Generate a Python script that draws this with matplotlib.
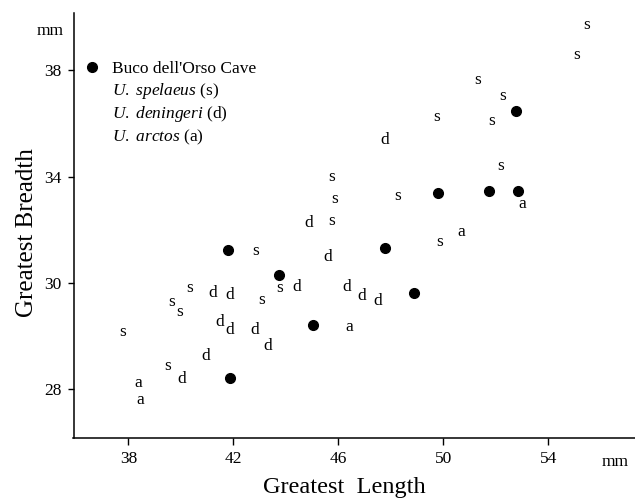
import matplotlib
matplotlib.use("Agg")
import matplotlib.pyplot as plt
from matplotlib.lines import Line2D

plt.rcParams['font.family'] = ['Liberation Serif', 'DejaVu Serif']
plt.rcParams['mathtext.fontset'] = 'custom'
plt.rcParams['mathtext.rm'] = 'Liberation Serif'
plt.rcParams['mathtext.it'] = 'Liberation Serif:italic'

# Buco dell'Orso Cave (filled dots)
buco_length = [52.77, 49.80, 51.74, 52.85, 41.80, 47.78, 43.74, 48.88, 45.04, 41.87]
buco_breadth = [36.47, 33.38, 33.46, 33.46, 31.24, 31.32, 30.30, 29.62, 28.42, 26.43]

# U. spelaeus (s)
spelaeus_length = [55.44, 55.06, 51.32, 52.24, 49.76, 51.82, 52.20, 48.27, 45.76, 45.84,
                   45.76, 49.84, 42.83, 43.78, 40.35, 43.09, 39.63, 39.97, 37.80, 39.51]
spelaeus_breadth = [39.70, 38.57, 37.63, 37.03, 36.24, 36.09, 34.40, 33.27, 33.98, 33.16,
                    32.33, 31.54, 31.20, 29.81, 29.81, 29.36, 29.29, 28.91, 28.16, 26.88]

# U. deningeri (d)
deningeri_length = [47.78, 44.88, 45.61, 44.43, 46.33, 46.90, 47.51, 41.23, 41.87, 41.49,
                    41.87, 42.83, 43.32, 40.96, 40.05]
deningeri_breadth = [35.38, 32.26, 30.98, 29.85, 29.85, 29.51, 29.32, 29.62, 29.55, 28.53,
                     28.23, 28.23, 27.63, 27.26, 26.39]

# U. arctos (a)
arctos_length = [53.00, 50.67, 46.41, 38.37, 38.45]
arctos_breadth = [32.97, 31.92, 28.35, 26.24, 25.60]

xtick_values = [38, 42, 46, 50, 54]
xtick_labels = ["38", "42", "46", "50", "54"]
ytick_values = [26, 30, 34, 38]
ytick_labels = ["28", "30", "34", "38"]

legend_labels = ["Buco dell'Orso Cave",
                 r"$\mathit{U.\ spelaeus}$ (s)",
                 r"$\mathit{U.\ deningeri}$ (d)",
                 r"$\mathit{U.\ arctos}$ (a)"]

W, H = 635, 499
fig = plt.figure(figsize=(W / 100, H / 100), dpi=100)
ax = fig.add_axes([73.5 / W, (H - 438) / H, (W - 73.5) / W, (438 - 13) / H])
ax.set_xlim(35.91, 57.30)
ax.set_ylim(24.17, 40.15)

fs = 12.5
for xs, ys, ch in [(spelaeus_length, spelaeus_breadth, 's'),
                   (deningeri_length, deningeri_breadth, 'd'),
                   (arctos_length, arctos_breadth, 'a')]:
    for x, y in zip(xs, ys):
        ax.text(x, y, ch, ha='center', va='center', fontsize=fs, color='black')

ax.plot(buco_length, buco_breadth, 'o', color='black', markersize=7, linestyle='none')

for s in ['top', 'right']:
    ax.spines[s].set_visible(False)
for s in ['left', 'bottom']:
    ax.spines[s].set_linewidth(1.1)

ax.set_xticks(xtick_values)
ax.set_xticklabels(xtick_labels)
ax.set_yticks(ytick_values)
ax.set_yticklabels(ytick_labels)
ax.tick_params(axis='x', direction='out', length=5, width=1, pad=4.5, labelsize=fs)
ax.tick_params(axis='y', direction='out', length=4.5, width=1, pad=4, labelsize=fs)

ax.set_xlabel("Greatest  Length", fontsize=17.5)
ax.xaxis.label.set_va('baseline')
ax.xaxis.set_label_coords((344.5 - 73.5) / (W - 73.5), (438 - 493) / (438 - 13))
ax.set_ylabel("Greatest Breadth", fontsize=18, rotation=90)
ax.yaxis.label.set_rotation_mode('anchor')
ax.yaxis.label.set_va('baseline')
ax.yaxis.label.set_ha('center')
ax.yaxis.set_label_coords((33 - 73.5) / (W - 73.5), (438 - 233) / (438 - 13))

fig.text(50 / W, 1 - 35 / H, "mm", ha='center', va='baseline', fontsize=fs)
fig.text(615 / W, 1 - 466 / H, "mm", ha='center', va='baseline', fontsize=fs)

handles = [Line2D([], [], marker='o', color='black', linestyle='none', markersize=7)] + \
          [Line2D([], [], linestyle='none') for _ in range(3)]
leg = ax.legend(handles, legend_labels, loc='upper left',
                bbox_to_anchor=(83.3 / W, 1 - 61 / H), bbox_transform=fig.transFigure,
                frameon=False, fontsize=fs, handlelength=1.0, handletextpad=0.65,
                labelspacing=0.2, borderpad=0, borderaxespad=0)

fig.savefig("out.png", dpi=100, facecolor='white')
